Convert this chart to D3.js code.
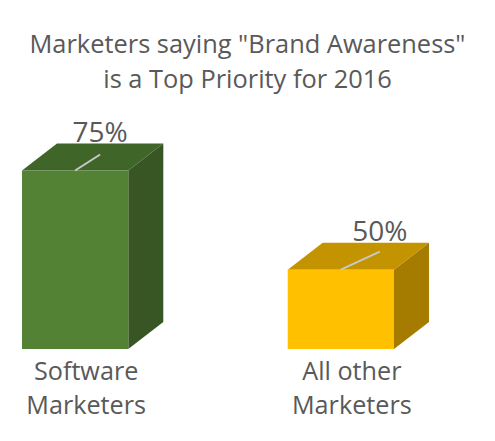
<!DOCTYPE html>
<html>
<head>
<meta charset="utf-8">
<script src="https://cdn.jsdelivr.net/npm/d3@7"></script>
<style>
  html, body { margin: 0; padding: 0; background: #fff; }
  svg { display: block; font-family: "Open Sans", "Noto Sans", sans-serif; }
</style>
</head>
<body>
<svg id="chart" width="495" height="441"></svg>
<script>
// data
const titleLines = ['Marketers saying "Brand Awareness"', 'is a Top Priority for 2016']
const categories = ['Software\nMarketers', 'All other\nMarketers']
const values = [75, 50]
const valueLabels = ['75%', '50%']

// colours: front, top, side
const FACES = [
  { front: '#548235', top: '#3f6529', side: '#375623' },
  { front: '#ffc000', top: '#c39300', side: '#a67c00' }
]

const DEPTH = { dx: 35, dy: -27 }
// where each value label sits relative to the top-centre of its bar
const LABEL_OFFSET = [ { dx: 25, dy: -16 }, { dx: 39, dy: -18 } ]

const svg = d3.select('#chart')

const x = d3.scaleBand()
  .domain(d3.range(categories.length))
  .range([22, 394])
  .paddingInner(0.6)
  .paddingOuter(0)

const y = d3.scaleLinear()
  .domain([30, 75])
  .range([349, 170.5])

// title
svg.append('g')
  .attr('fill', '#595959')
  .attr('font-size', 25.4)
  .attr('text-anchor', 'middle')
  .selectAll('text')
  .data(titleLines)
  .join('text')
    .attr('x', 247.5)
    .attr('y', (d, i) => 53 + i * 35)
    .text(d => d)

// bars
const bars = svg.append('g')
  .selectAll('g')
  .data(values)
  .join('g')

bars.each(function(v, i) {
  const g = d3.select(this)
  const x0 = x(i), x1 = x(i) + x.bandwidth()
  const y0 = y(v), yb = y(30)
  const { dx, dy } = DEPTH
  const c = FACES[i]

  // side face
  g.append('path')
    .attr('fill', c.side)
    .attr('d', `M${x1},${y0}L${x1 + dx},${y0 + dy}L${x1 + dx},${yb + dy}L${x1},${yb}Z`)
  // top face
  g.append('path')
    .attr('fill', c.top)
    .attr('d', `M${x0},${y0}L${x0 + dx},${y0 + dy}L${x1 + dx},${y0 + dy}L${x1},${y0}Z`)
  // front face
  g.append('rect')
    .attr('fill', c.front)
    .attr('x', x0).attr('y', y0)
    .attr('width', x.bandwidth()).attr('height', yb - y0)

  // leader line + value label
  const cx = x0 + x.bandwidth() / 2
  const o = LABEL_OFFSET[i]
  g.append('line')
    .attr('stroke', '#c8c8c8')
    .attr('stroke-width', 2)
    .attr('x1', cx).attr('y1', y0)
    .attr('x2', cx + o.dx).attr('y2', y0 + o.dy)
  g.append('text')
    .attr('fill', '#595959')
    .attr('font-size', 28)
    .attr('text-anchor', 'middle')
    .attr('x', cx + o.dx)
    .attr('y', y0 - 29)
    .text(valueLabels[i])
})

// category labels
svg.append('g')
  .attr('fill', '#595959')
  .attr('font-size', 25.2)
  .attr('text-anchor', 'middle')
  .selectAll('text')
  .data(categories)
  .join('text')
    .attr('x', (d, i) => x(i) + x.bandwidth() / 2 + 11)
    .attr('y', 380)
    .selectAll('tspan')
    .data(d => d.split('\n'))
    .join('tspan')
      .attr('x', function() { return this.parentNode.getAttribute('x') })
      .attr('dy', (d, j) => j ? 34 : 0)
      .text(d => d)
</script>
</body>
</html>
